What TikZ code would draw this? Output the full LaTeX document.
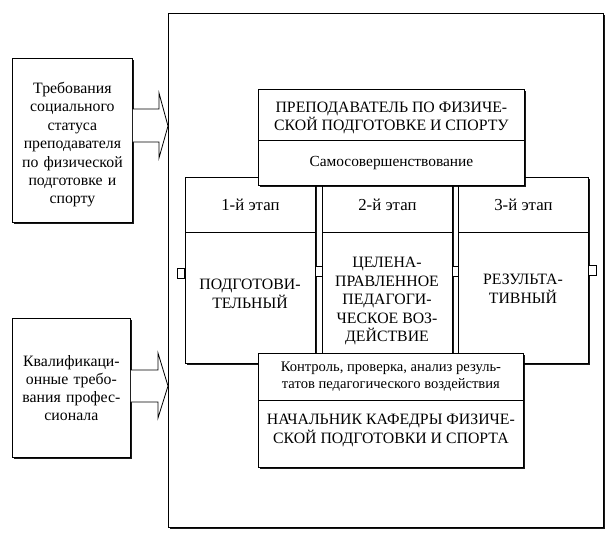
\documentclass[tikz,border=0pt]{standalone}
\usepackage{fontspec}
\setmainfont{Liberation Serif}
\usetikzlibrary{shadows}
\begin{document}
\begin{tikzpicture}[x=1pt,y=-1pt,
  frm/.style={draw, line width=0.8pt, inner sep=0pt},
  box/.style={draw, line width=0.8pt, fill=white, inner sep=2pt, align=center},
  shd/.style={drop shadow={shadow xshift=1.4pt, shadow yshift=-1.4pt, opacity=0.9, fill=black}},
  txt/.style={inner sep=1pt, align=center, font=\fontsize{15.8}{18.5}\selectfont},
  htxt/.style={inner sep=1pt, align=center, font=\fontsize{16.8}{19}\selectfont},
  stxt/.style={inner sep=1pt, align=center, font=\fontsize{14.6}{17.5}\selectfont},
  sq/.style={draw, line width=0.8pt, fill=white, inner sep=0pt, minimum height=10pt},
  blk/.style={draw, line width=0.8pt, fill=white, line join=miter}]
\useasboundingbox (0,0) rectangle (605,544);

% outer frame
\node[frm, shd, fill=white, anchor=north west, minimum width=435pt, minimum height=514pt] (frame) at (168,13) {};

% left requirement boxes
\node[box, shd, anchor=north west, minimum width=120pt, minimum height=164pt, text width=116pt, font=\fontsize{15.8}{18.4}\selectfont] (req1) at (12,58)
  {\rule{0pt}{20pt}Требования\\социального\\статуса\\преподавателя\\по физической\\подготовке и\\спорту};
\node[box, shd, anchor=north west, minimum width=118pt, minimum height=139pt, text width=114pt, font=\fontsize{15.8}{18.2}\selectfont] (req2) at (12,318)
  {Квалификаци-\\онные требо-\\вания профес-\\сионала\\[22pt]};

% block arrows
\draw[blk] (req1.east |- 0,109) -- (159,109) -- (159,93) -- (frame.west |- 0,126) -- (159,158) -- (159,142) -- (req1.east |- 0,142);
\draw[blk] (req2.east |- 0,370) -- (158,370) -- (158,353) -- (frame.west |- 0,386) -- (158,418) -- (158,402) -- (req2.east |- 0,402);

% stages
\node[box, shd, anchor=north west, minimum width=130pt, minimum height=186pt] (s1) at (185,177) {};
\node[box, shd, anchor=north west, minimum width=130pt, minimum height=186pt] (s2) at (322,177) {};
\node[box, shd, anchor=north west, minimum width=130pt, minimum height=186pt] (s3) at (458,177) {};

\node[htxt, anchor=north, minimum width=130pt, minimum height=55pt] (s1h) at (s1.north) {1-й этап};
\node[htxt, anchor=north, minimum width=130pt, minimum height=55pt] (s2h) at (s2.north) {2-й этап};
\node[htxt, anchor=north, minimum width=130pt, minimum height=55pt] (s3h) at (s3.north) {3-й этап};
\draw[line width=0.8pt] (s1h.south west) -- (s1h.south east);
\draw[line width=0.8pt] (s2h.south west) -- (s2h.south east);
\draw[line width=0.8pt] (s3h.south west) -- (s3h.south east);

\node[txt] (s1b) at (250,294) {ПОДГОТОВИ-\\ТЕЛЬНЫЙ};
\node[txt] (s2b) at (387,301) {ЦЕЛЕНА-\\ПРАВЛЕННОЕ\\ПЕДАГОГИ-\\ЧЕСКОЕ ВОЗ-\\ДЕЙСТВИЕ};
\node[txt] (s3b) at (523,289) {РЕЗУЛЬТА-\\ТИВНЫЙ};

% small squares
\node[sq, anchor=east, minimum width=7pt] (q1) at (185,273) {};
\node[sq, minimum width=7pt] (q2) at (318.5,271) {};
\node[sq, minimum width=6pt] (q3) at (455,271) {};
\node[sq, anchor=west, minimum width=8pt] (q4) at (588,270) {};

% teacher box
\node[box, shd, anchor=north west, minimum width=266pt, minimum height=96pt] (t) at (258,89) {};
\node[txt, anchor=north, minimum width=266pt, minimum height=51pt, yshift=-3pt] (th) at (t.north) {ПРЕПОДАВАТЕЛЬ ПО ФИЗИЧЕ-\\СКОЙ ПОДГОТОВКЕ И СПОРТУ};
\draw[line width=0.8pt] (t.west |- 0,140) coordinate (tl) -- (t.east |- tl);
\node[txt, font=\fontsize{15.4}{18}\selectfont, anchor=north, minimum width=266pt, minimum height=45pt] (tb) at (t.north |- tl) {Самосовершенствование};

% control box
\node[box, shd, anchor=north west, minimum width=265pt, minimum height=114pt] (c) at (258,353) {};
\node[stxt, anchor=north, minimum width=265pt, minimum height=47pt] (ch) at (c.north) {Контроль, проверка, анализ резуль-\\татов педагогического воздействия};
\draw[line width=0.8pt] (ch.south west) -- (ch.south east);
\node[txt, anchor=north, minimum width=265pt, minimum height=60pt] (cb) at (ch.south) {НАЧАЛЬНИК КАФЕДРЫ ФИЗИЧЕ-\\СКОЙ ПОДГОТОВКИ И СПОРТА};
\end{tikzpicture}
\end{document}
